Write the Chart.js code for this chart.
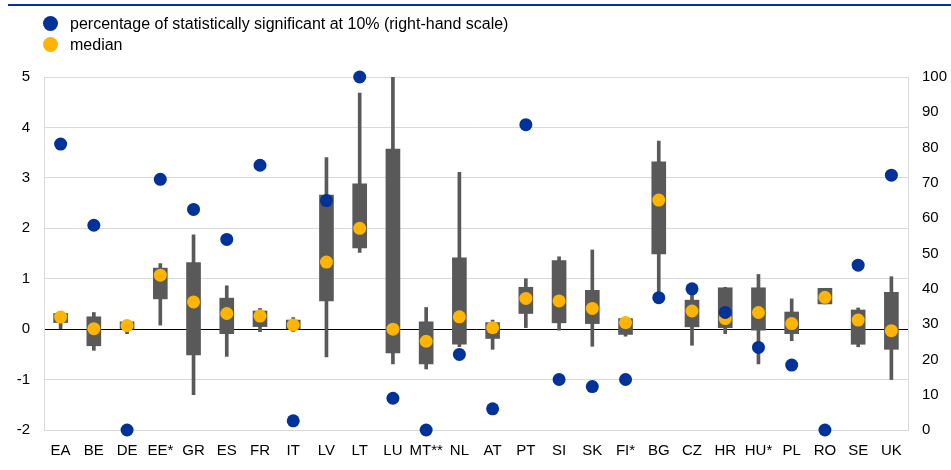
<!DOCTYPE html>
<html>
<head>
<meta charset="utf-8">
<script src="https://cdn.jsdelivr.net/npm/chart.js@4/dist/chart.umd.min.js"></script>
<style>
  body { margin: 0; background: #fff; font-family: "Liberation Sans", Arial, sans-serif; }
  #wrap { position: relative; width: 951px; height: 470px; }
  #topline { position: absolute; left: 8px; right: 0; top: 4px; height: 2px; background: #003299; }
  #legend { position: absolute; left: 43px; top: 13px; font-size: 16px; color: #000; }
  #legend div { height: 21px; line-height: 21px; white-space: nowrap; }
  #legend span.dot { display: inline-block; width: 15px; height: 15px; border-radius: 50%; vertical-align: -2px; margin-right: 12px; }
  #chartBox { position: absolute; left: 0; top: 0; width: 951px; height: 470px; }
</style>
</head>
<body>
<div id="wrap">
  <div id="topline"></div>
  <div id="chartBox"><canvas id="chart"></canvas></div>
  <div id="legend">
    <div><span class="dot" style="background:#003299"></span>percentage of statistically significant at 10% (right-hand scale)</div>
    <div><span class="dot" style="background:#FFB400"></span>median</div>
  </div>
</div>
<script>
var categories = ['EA', 'BE', 'DE', 'EE*', 'GR', 'ES', 'FR', 'IT', 'LV', 'LT', 'LU', 'MT**', 'NL',
                  'AT', 'PT', 'SI', 'SK', 'FI*', 'BG', 'CZ', 'HR', 'HU*', 'PL', 'RO', 'SE', 'UK'];

// whiskers (min / max)
var whiskerLow  = [0, -0.42, -0.09, 0.08, -1.30, -0.54, -0.05, -0.05, -0.55, 1.52, -0.69, -0.79, -0.35,
                   -0.40, 0.03, -0.02, -0.34, -0.14, 0.65, -0.32, -0.09, -0.69, -0.23, 0.50, -0.35, -1.00];
var whiskerHigh = [0.31, 0.33, 0.145, 1.30, 1.87, 0.86, 0.41, 0.23, 3.40, 4.68, 5.00, 0.43, 3.11,
                   0.18, 1.00, 1.435, 1.57, 0.21, 3.73, 0.75, 0.83, 1.085, 0.60, 0.81, 0.42, 1.04];

// boxes (quartiles)
var boxLow  = [0.13, -0.33, 0, 0.60, -0.51, -0.09, 0.05, 0, 0.56, 1.61, -0.47, -0.69, -0.30,
               -0.185, 0.31, 0.125, 0.11, -0.105, 1.49, 0.046, 0.03, -0.02, -0.09, 0.50, -0.30, -0.40];
var boxHigh = [0.31, 0.245, 0.145, 1.21, 1.32, 0.615, 0.36, 0.18, 2.66, 2.88, 3.57, 0.145, 1.415,
               0.13, 0.83, 1.36, 0.77, 0.21, 3.32, 0.575, 0.82, 0.82, 0.34, 0.81, 0.38, 0.73];

var median = [0.24, 0.01, 0.07, 1.07, 0.54, 0.31, 0.26, 0.08, 1.33, 2.00, 0, -0.24, 0.245,
              0.03, 0.61, 0.56, 0.41, 0.13, 2.56, 0.36, 0.21, 0.33, 0.11, 0.63, 0.18, -0.03];

// percentage of statistically significant at 10% (right-hand scale)
var significant = [81, 58, 0, 71, 62.5, 54, 75, 2.6, 65, 100, 9, 0, 21.4,
                   6, 86.5, 14.3, 12.3, 14.3, 37.5, 40, 33.3, 23.4, 18.4, 0, 46.7, 72.2];

var leftTicks = [-2, -1, 0, 1, 2, 3, 4, 5];

function pairs(lo, hi) {
    return lo.map(function(v, i) { return [v, hi[i]]; });
}

Chart.defaults.font.family = '"Liberation Sans", Arial, sans-serif';
Chart.defaults.font.size = 15;
Chart.defaults.color = '#000';

var chart = new Chart('chart', {
    type: 'bar',
    data: {
        labels: categories,
        datasets: [{
            label: 'significant',
            type: 'line',
            data: significant,
            yAxisID: 'y2',
            showLine: false,
            pointRadius: 6.5,
            pointHoverRadius: 6.5,
            pointBackgroundColor: '#003299',
            pointBorderWidth: 0,
            clip: false,
            order: 1
        }, {
            label: 'median',
            type: 'line',
            data: median,
            yAxisID: 'y',
            showLine: false,
            pointRadius: 6.5,
            pointHoverRadius: 6.5,
            pointBackgroundColor: '#FFB400',
            pointBorderWidth: 0,
            clip: false,
            order: 2
        }, {
            label: 'box',
            data: pairs(boxLow, boxHigh),
            backgroundColor: '#595959',
            barThickness: 14,
            grouped: false,
            borderSkipped: false,
            order: 3
        }, {
            label: 'whisker',
            data: pairs(whiskerLow, whiskerHigh),
            backgroundColor: '#595959',
            barThickness: 3,
            grouped: false,
            borderSkipped: false,
            order: 4
        }]
    },
    options: {
        responsive: true,
        maintainAspectRatio: false,
        animation: false,
        layout: { padding: { top: 77, left: 0, right: 0, bottom: 0 } },
        plugins: {
            legend: { display: false },
            tooltip: { enabled: false }
        },
        scales: {
            x: {
                grid: { display: false },
                border: { display: false },
                ticks: { padding: 4, maxRotation: 0, autoSkip: false },
                afterFit: function(s) { s.height = 40; }
            },
            y: {
                position: 'left',
                min: -2,
                max: 5,
                afterBuildTicks: function(s) { s.ticks = leftTicks.map(function(v) { return { value: v }; }); },
                grid: {
                    drawTicks: false,
                    color: function(c) { return c.tick && c.tick.value === 0 ? '#000' : '#d9d9d9'; },
                    lineWidth: 1
                },
                border: { display: true, color: '#d9d9d9' },
                ticks: { padding: 14 },
                afterFit: function(s) { s.width = 44; }
            },
            y2: {
                position: 'right',
                min: 0,
                max: 100,
                ticks: { stepSize: 10, padding: 14 },
                grid: { display: false, drawTicks: false },
                border: { display: true, color: '#d9d9d9' },
                afterFit: function(s) { s.width = 43; }
            }
        }
    }
});
</script>
</body>
</html>
